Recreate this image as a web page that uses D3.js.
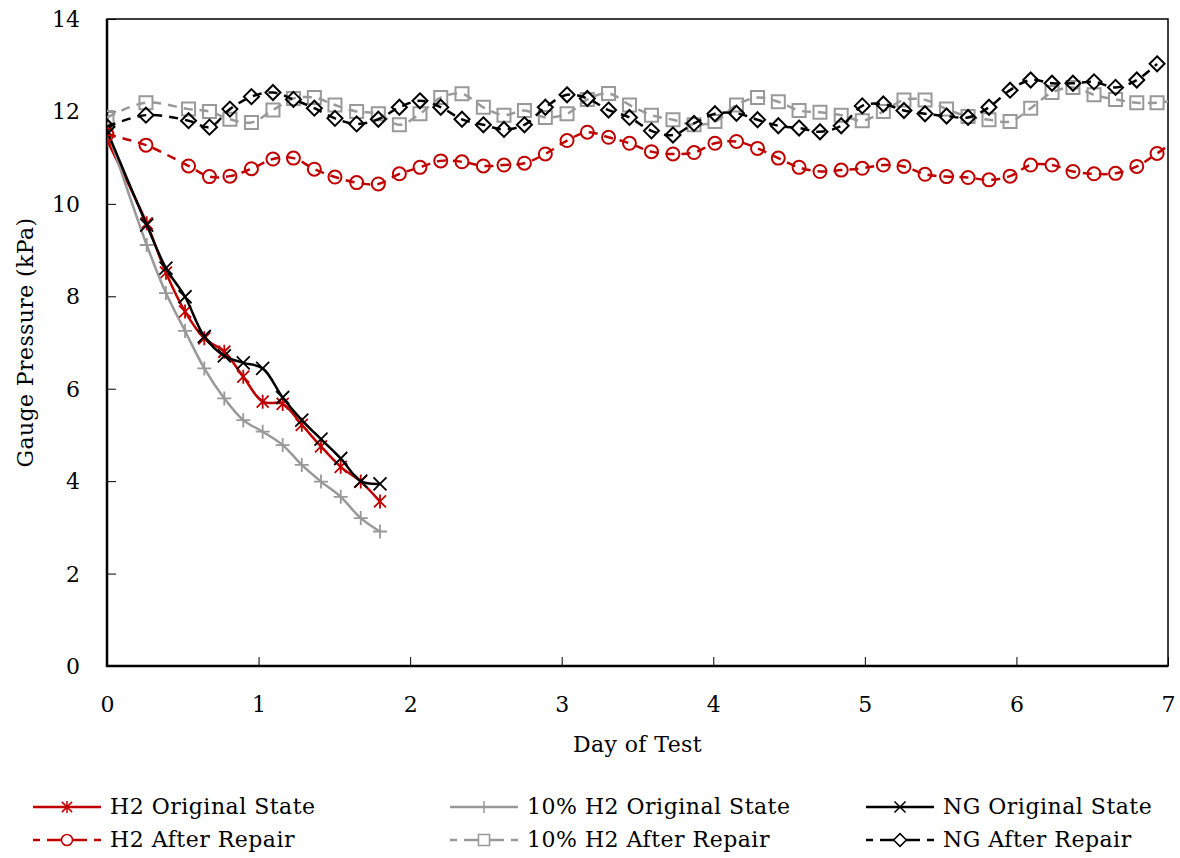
<!DOCTYPE html>
<html>
<head>
<meta charset="utf-8">
<script src="https://cdn.jsdelivr.net/npm/d3@7"></script>
<style>
  html, body { margin: 0; padding: 0; background: #fff; }
  svg text { font-family: "DejaVu Serif", "Liberation Serif", serif; fill: #000; }
</style>
</head>
<body>
<div id="chart"></div>
<script>
// Datos
const dayOriginal = [0, 0.262, 0.389, 0.515, 0.642, 0.774, 0.899, 1.027, 1.159, 1.285, 1.412, 1.542, 1.674, 1.801];
const h2Original = [11.38, 9.58, 8.51, 7.67, 7.09, 6.80, 6.26, 5.72, 5.67, 5.22, 4.75, 4.31, 3.99, 3.56];
const mixOriginal = [11.62, 9.11, 8.07, 7.25, 6.44, 5.79, 5.32, 5.07, 4.78, 4.35, 3.99, 3.66, 3.20, 2.91];
const ngOriginal = [11.58, 9.54, 8.61, 7.99, 7.13, 6.71, 6.56, 6.44, 5.81, 5.32, 4.91, 4.49, 4.00, 3.94];

const dayRepair = [0, 0.257, 0.538, 0.676, 0.811, 0.953, 1.095, 1.230, 1.368, 1.504, 1.647, 1.790, 1.929, 2.065,
  2.202, 2.342, 2.483, 2.619, 2.754, 2.892, 3.035, 3.169, 3.309, 3.447, 3.592, 3.734, 3.873, 4.011, 4.153,
  4.292, 4.429, 4.566, 4.704, 4.844, 4.983, 5.122, 5.258, 5.397, 5.539, 5.681, 5.819, 5.958, 6.094, 6.235,
  6.373, 6.512, 6.654, 6.794, 6.928, 7.067];
const h2Repair = [11.50, 11.27, 10.82, 10.59, 10.60, 10.76, 10.97, 10.99, 10.75, 10.58, 10.46, 10.43, 10.65, 10.79,
  10.93, 10.91, 10.82, 10.84, 10.88, 11.08, 11.37, 11.55, 11.44, 11.31, 11.13, 11.08, 11.11, 11.31, 11.35,
  11.20, 10.99, 10.79, 10.70, 10.73, 10.77, 10.84, 10.81, 10.64, 10.59, 10.57, 10.52, 10.60, 10.84, 10.84,
  10.70, 10.65, 10.66, 10.81, 11.09, 11.42];
const mixRepair = [11.87, 12.19, 12.05, 12.00, 11.83, 11.76, 12.03, 12.28, 12.30, 12.14, 12.00, 11.95, 11.71, 11.95,
  12.30, 12.38, 12.09, 11.92, 12.02, 11.87, 11.95, 12.26, 12.39, 12.14, 11.92, 11.82, 11.71, 11.78, 12.14,
  12.30, 12.21, 12.02, 11.98, 11.92, 11.80, 12.00, 12.25, 12.25, 12.05, 11.89, 11.82, 11.78, 12.07, 12.41,
  12.52, 12.36, 12.26, 12.19, 12.19, 12.24];
const ngRepair = [11.67, 11.92, 11.80, 11.66, 12.05, 12.32, 12.41, 12.26, 12.07, 11.85, 11.73, 11.83, 12.09, 12.23,
  12.09, 11.83, 11.71, 11.61, 11.71, 12.09, 12.36, 12.28, 12.03, 11.87, 11.58, 11.49, 11.74, 11.95, 11.96,
  11.82, 11.69, 11.64, 11.56, 11.69, 12.12, 12.16, 12.02, 11.95, 11.90, 11.87, 12.09, 12.46, 12.68, 12.61,
  12.61, 12.64, 12.52, 12.68, 13.03];

const xTicks = [0, 1, 2, 3, 4, 5, 6, 7];
const yTicks = [0, 2, 4, 6, 8, 10, 12, 14];

const seriesNames = ['H2 Original State', 'H2 After Repair', '10% H2 Original State', '10% H2 After Repair', 'NG Original State', 'NG After Repair'];

// Marcadores
const markerPaths = {
  asterisk: 'M0,-7V7M-6,-6L6,6M-6,6L6,-6',
  plus: 'M-7,0H7M0,-7V7',
  cross: 'M-6.5,-6.5L6.5,6.5M-6.5,6.5L6.5,-6.5',
  circle: 'M6.5,0A6.5,6.5 0 1,1 -6.5,0A6.5,6.5 0 1,1 6.5,0Z',
  square: 'M-6.5,-6.5H6.5V6.5H-6.5Z',
  diamond: 'M0,-7.5L7.5,0L0,7.5L-7.5,0Z'
};

const series = [
  { name: seriesNames[0], x: dayOriginal, y: h2Original, color: '#C00000', dash: null, marker: 'asterisk' },
  { name: seriesNames[2], x: dayOriginal, y: mixOriginal, color: '#999999', dash: null, marker: 'plus' },
  { name: seriesNames[4], x: dayOriginal, y: ngOriginal, color: '#000000', dash: null, marker: 'cross' },
  { name: seriesNames[1], x: dayRepair, y: h2Repair, color: '#C00000', dash: '9,7', marker: 'circle' },
  { name: seriesNames[3], x: dayRepair, y: mixRepair, color: '#999999', dash: '9,7', marker: 'square' },
  { name: seriesNames[5], x: dayRepair, y: ngRepair, color: '#000000', dash: '9,7', marker: 'diamond' }
];

let W = 1180, H = 858;
let margin = { top: 19, right: 12, bottom: 192, left: 107 };
let width = W - margin.left - margin.right,
    height = H - margin.top - margin.bottom;

let svg = d3.select('#chart').append('svg')
  .attr('width', W).attr('height', H);

svg.append('defs').append('clipPath').attr('id', 'plot-clip')
  .append('rect').attr('x', 0).attr('y', 0).attr('width', width).attr('height', height);

let chart = svg.append('g').attr('transform', 'translate(' + margin.left + ',' + margin.top + ')');

let x_c = d3.scaleLinear().domain([0, 7]).range([0, width]);
let y_c = d3.scaleLinear().domain([0, 14]).range([height, 0]);

// Ejes (ticks hacia dentro)
chart.append('g')
  .attr('transform', 'translate(0,' + height + ')')
  .call(d3.axisBottom(x_c).tickValues(xTicks).tickFormat(d3.format('d')).tickSizeInner(-9).tickSizeOuter(0).tickPadding(30))
  .call(function (g) {
    g.select('.domain').remove();
    g.selectAll('.tick line').attr('stroke', '#000').attr('stroke-width', 1);
    g.selectAll('.tick text').attr('font-size', '22px');
  });

chart.append('g')
  .call(d3.axisLeft(y_c).tickValues(yTicks).tickSizeInner(-9).tickSizeOuter(0).tickPadding(27))
  .call(function (g) {
    g.select('.domain').remove();
    g.selectAll('.tick line').attr('stroke', '#000').attr('stroke-width', 1);
    g.selectAll('.tick text').attr('font-size', '22px').attr('dy', '0.34em');
  });

// Marco
chart.append('rect')
  .attr('x', 0).attr('y', 0).attr('width', width).attr('height', height)
  .attr('fill', 'none').attr('stroke', '#000').attr('stroke-width', 1.5);
chart.append('path')
  .attr('d', 'M0,0V' + height + 'H' + width)
  .attr('fill', 'none').attr('stroke', '#000').attr('stroke-width', 2.5);

// Líneas
let line = d3.line()
  .x(function (d) { return x_c(d[0]); })
  .y(function (d) { return y_c(d[1]); })
  .curve(d3.curveCatmullRom.alpha(0.5));

let plot = chart.append('g').attr('clip-path', 'url(#plot-clip)');

series.forEach(function (s) {
  let pts = s.y.map(function (v, i) { return [s.x[i], v]; });
  plot.append('path')
    .datum(pts)
    .attr('d', line)
    .attr('fill', 'none')
    .attr('stroke', s.color)
    .attr('stroke-width', 2.5)
    .attr('stroke-dasharray', s.dash);
  plot.selectAll(null)
    .data(pts.filter(function (d) { return d[0] <= 7; }))
    .enter()
    .append('path')
    .attr('transform', function (d) { return 'translate(' + x_c(d[0]) + ',' + y_c(d[1]) + ')'; })
    .attr('d', markerPaths[s.marker])
    .attr('fill', 'none')
    .attr('stroke', s.color)
    .attr('stroke-width', s.marker === 'circle' || s.marker === 'square' || s.marker === 'diamond' ? 2 : 1.8);
});

// Títulos de ejes
svg.append('text')
  .attr('x', margin.left + width / 2).attr('y', 752)
  .attr('text-anchor', 'middle').attr('font-size', '22px').attr('letter-spacing', '0.4px')
  .text('Day of Test');

svg.append('text')
  .attr('transform', 'translate(33,' + (margin.top + height / 2) + ') rotate(-90)')
  .attr('text-anchor', 'middle').attr('font-size', '22px').attr('letter-spacing', '0.4px')
  .text('Gauge Pressure (kPa)');

// Leyenda
let legendOrder = [series[0], series[3], series[1], series[4], series[2], series[5]];
let legendCols = [33, 450, 866];
let legendRows = [807, 840];
let dashSegs = [[0, 7], [14, 22], [22, 46], [46, 54], [61, 68]];

legendOrder.forEach(function (s, i) {
  let col = Math.floor(i / 2), row = i % 2;
  let lx = legendCols[col], ly = legendRows[row];
  let g = svg.append('g').attr('transform', 'translate(' + lx + ',' + ly + ')');
  let segs = s.dash ? dashSegs : [[0, 68]];
  segs.forEach(function (sg) {
    g.append('line')
      .attr('x1', sg[0]).attr('x2', sg[1]).attr('y1', 0).attr('y2', 0)
      .attr('stroke', s.color).attr('stroke-width', 2.5);
  });
  g.append('path')
    .attr('transform', 'translate(34,0) scale(0.85)')
    .attr('d', markerPaths[s.marker])
    .attr('fill', s.dash ? '#fff' : 'none')
    .attr('stroke', s.color)
    .attr('stroke-width', 1.8);
  g.append('text')
    .attr('x', 77).attr('y', 0).attr('dy', '0.34em')
    .attr('font-size', '22px').attr('letter-spacing', '0.5px')
    .text(s.name);
});
</script>
</body>
</html>
